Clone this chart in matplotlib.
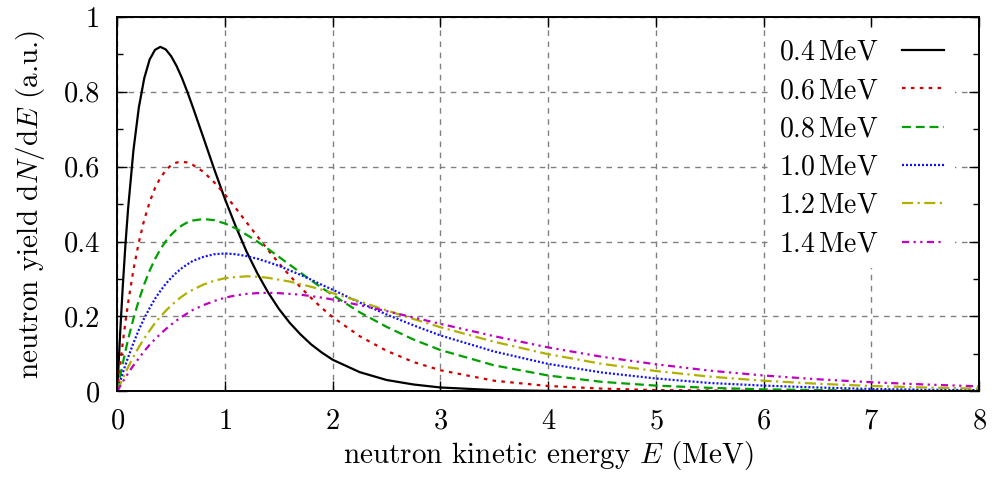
import matplotlib
matplotlib.use("Agg")
import matplotlib.pyplot as plt
from matplotlib.ticker import MultipleLocator

plt.rcParams["font.family"] = "cmr10"
plt.rcParams["mathtext.fontset"] = "cm"
plt.rcParams["axes.formatter.use_mathtext"] = True

# neutron energies (MeV), shared by all curves
energy = [0, 0.025, 0.05, 0.075, 0.1, 0.15, 0.2, 0.25, 0.3, 0.35, 0.4, 0.45, 0.5,
          0.55, 0.6, 0.65, 0.7, 0.8, 0.9, 1.0, 1.1, 1.2, 1.3, 1.4, 1.5, 1.6, 1.7,
          1.8, 1.9, 2.0, 2.25, 2.5, 2.75, 3.0, 3.5, 4.0, 4.5, 5.0, 5.5, 6.0, 6.5,
          7.0, 7.5, 8.0]

yield_04 = [0, 0.147, 0.276, 0.389, 0.487, 0.644, 0.758, 0.836, 0.886, 0.912, 0.920,
            0.913, 0.895, 0.869, 0.837, 0.800, 0.760, 0.677, 0.593, 0.513, 0.440,
            0.373, 0.315, 0.264, 0.220, 0.183, 0.152, 0.125, 0.103, 0.084, 0.051,
            0.030, 0.018, 0.010, 0.003, 0.001, 0.000, 0, 0, 0, 0, 0, 0, 0]
yield_06 = [0, 0.067, 0.128, 0.184, 0.235, 0.325, 0.398, 0.458, 0.505, 0.543, 0.570,
            0.590, 0.604, 0.611, 0.613, 0.611, 0.605, 0.586, 0.558, 0.525, 0.489,
            0.451, 0.414, 0.377, 0.342, 0.309, 0.278, 0.249, 0.222, 0.198, 0.147,
            0.108, 0.078, 0.056, 0.028, 0.014, 0.007, 0.003, 0.002, 0.001, 0.000,
            0, 0, 0]
yield_08 = [0, 0.038, 0.073, 0.107, 0.138, 0.194, 0.243, 0.286, 0.322, 0.353, 0.379,
            0.401, 0.418, 0.432, 0.443, 0.451, 0.456, 0.460, 0.457, 0.448, 0.435,
            0.418, 0.400, 0.380, 0.359, 0.338, 0.317, 0.296, 0.276, 0.257, 0.211,
            0.172, 0.138, 0.110, 0.069, 0.042, 0.025, 0.015, 0.009, 0.005, 0.003,
            0.002, 0.001, 0.001]
yield_10 = [0, 0.024, 0.048, 0.070, 0.090, 0.129, 0.164, 0.195, 0.222, 0.247, 0.268,
            0.287, 0.303, 0.317, 0.329, 0.339, 0.348, 0.359, 0.366, 0.368, 0.366,
            0.361, 0.354, 0.345, 0.335, 0.323, 0.311, 0.298, 0.284, 0.271, 0.237,
            0.205, 0.176, 0.149, 0.106, 0.073, 0.050, 0.034, 0.022, 0.015, 0.010,
            0.006, 0.004, 0.003]
yield_12 = [0, 0.017, 0.033, 0.049, 0.064, 0.092, 0.118, 0.141, 0.162, 0.182, 0.199,
            0.215, 0.229, 0.242, 0.253, 0.263, 0.271, 0.285, 0.295, 0.302, 0.305,
            0.307, 0.306, 0.303, 0.298, 0.293, 0.286, 0.279, 0.271, 0.262, 0.240,
            0.216, 0.193, 0.171, 0.132, 0.099, 0.073, 0.054, 0.039, 0.028, 0.020,
            0.014, 0.010, 0.007]
yield_14 = [0, 0.013, 0.025, 0.036, 0.048, 0.069, 0.088, 0.107, 0.124, 0.139, 0.153,
            0.166, 0.178, 0.189, 0.199, 0.208, 0.217, 0.230, 0.241, 0.250, 0.256,
            0.260, 0.262, 0.263, 0.262, 0.260, 0.258, 0.254, 0.250, 0.245, 0.230,
            0.214, 0.197, 0.180, 0.147, 0.117, 0.092, 0.072, 0.055, 0.042, 0.032,
            0.024, 0.018, 0.013]

labels = ["0.4$\\,$MeV", "0.6$\\,$MeV", "0.8$\\,$MeV", "1.0$\\,$MeV", "1.2$\\,$MeV",
          "1.4$\\,$MeV"]
series = [yield_04, yield_06, yield_08, yield_10, yield_12, yield_14]
colors = ["black", "#d00000", "#00a000", "#1010ff", "#b0b000", "#c000c0"]
styles = [
    "-",
    (0, (1.6, 2.4)),
    (0, (4.0, 2.2)),
    (0, (0.9, 0.9)),
    (0, (5.0, 2.0, 1.0, 2.0)),
    (0, (3.2, 2.0, 1.0, 2.0, 1.0, 2.0)),
]

fig = plt.figure(figsize=(9.94, 4.83), dpi=100)
ax = fig.add_axes([0.118, 0.19, 0.867, 0.775])

for ys, lab, col, ls in zip(series, labels, colors, styles):
    ax.plot(energy, ys, color=col, linestyle=ls, linewidth=1.6, label=lab)

ax.set_xlim(0, 8)
ax.set_ylim(0, 1)
ax.xaxis.set_major_locator(MultipleLocator(1))
ax.yaxis.set_minor_locator(MultipleLocator(0.1))
ax.set_yticks([0, 0.2, 0.4, 0.6, 0.8, 1.0])
ax.set_yticklabels(["0", "0.2", "0.4", "0.6", "0.8", "1"])
ax.tick_params(which="both", direction="in", top=True, right=True, labelsize=20.5, pad=12.5)
ax.tick_params(which="major", length=7, width=1)
ax.tick_params(which="minor", length=4, width=1)
ax.grid(True, which="major", color="#808080", linestyle=(0, (4, 4)), linewidth=1)
for s in ax.spines.values():
    s.set_linewidth(1.4)

ax.set_xlabel("neutron kinetic energy $E$ (MeV)", fontsize=21, labelpad=3)
ax.set_ylabel("neutron yield d$N$/d$E$ (a.u.)", fontsize=21, labelpad=12)

leg = ax.legend(loc="upper right", bbox_to_anchor=(0.9722, 0.9692), borderaxespad=0,
                markerfirst=False, fontsize=20, frameon=True, handlelength=1.5,
                labelspacing=0.43, handletextpad=0.86, fancybox=False)
leg.get_frame().set_edgecolor("none")
leg.get_frame().set_facecolor("white")
leg.get_frame().set_alpha(1)

fig.savefig("out.png", dpi=100)
